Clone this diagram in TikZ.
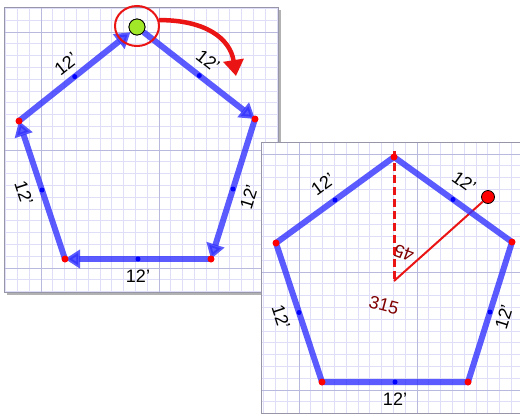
\documentclass[tikz,border=0pt]{standalone}
\usepackage{fontspec}
\setmainfont{Liberation Sans}
\usetikzlibrary{arrows.meta,shapes.geometric}
\definecolor{pnBlue}{RGB}{50,50,255}
\definecolor{pnRed}{RGB}{235,20,20}
\definecolor{pnDark}{RGB}{128,0,0}
\definecolor{pnGrid}{RGB}{222,222,248}
\definecolor{pnMajor}{RGB}{185,185,222}
\definecolor{pnBorder}{RGB}{150,150,168}
\definecolor{pnLime}{RGB}{160,232,40}
\begin{document}
\begin{tikzpicture}[
  x=1pt, y=-1pt, font=\fontsize{18}{20}\selectfont,
  minor/.style ={pnGrid, line width=0.8pt},
  major/.style ={pnMajor, line width=0.8pt},
  side/.style  ={pnBlue, opacity=0.8, line width=6pt},
  arr/.style   ={side, -{Triangle[length=15pt,width=18pt]}},
  vdot/.style  ={circle, fill=red, inner sep=0pt, minimum size=7pt},
  mdot/.style  ={circle, fill=blue, inner sep=0pt, minimum size=5pt, opacity=1},
  lbl/.style   ={inner sep=0pt, text=black, opacity=1},
  ang/.style   ={inner sep=0pt, text=pnDark}]
  \useasboundingbox (0,0) rectangle (520,416);
  \fill[gray!60] (7,10) rectangle (281,295);
  \fill[white] (4,7) rectangle (278,292);
  \begin{scope}
    \clip (4,7) rectangle (278,292);
    \foreach \k in {-4,...,21} \draw[minor] ({41+11.8*\k},7) -- ({41+11.8*\k},292);
    \foreach \k in {-3,...,23} \draw[minor] (4,{32+11.8*\k}) -- (278,{32+11.8*\k});
    \foreach \k in {0,1} \draw[major] ({41+118*\k},7) -- ({41+118*\k},292);
    \foreach \k in {0,1,2} \draw[major] (4,{32+118*\k}) -- (278,{32+118*\k});
  \end{scope}
  \draw[pnBorder] (4,7) rectangle (278,292);
  \coordinate (lt)  at (137,27);
  \coordinate (lr)  at (255,119);
  \coordinate (lbr) at (211,259);
  \coordinate (lbl) at (65,259);
  \coordinate (ll)  at (19,121);
  \node[circle, draw=black, fill=pnLime, minimum size=16pt, inner sep=0pt, line width=0.8pt] (gn) at (lt) {};
  \draw[arr] (gn) -- node[mdot] (m1) {} (lr);
  \draw[arr] (lr) -- node[mdot] (m2) {} (lbr);
  \draw[arr] (lbr) -- node[mdot] (m3) {} (lbl);
  \draw[arr] (lbl) -- node[mdot] (m4) {} (ll);
  \draw[arr] (ll) -- node[mdot] (m5) {} (gn);
  \node[circle, draw=black, fill=pnLime, minimum size=16pt, inner sep=0pt, line width=0.8pt] (gn2) at (lt) {};
  \node[vdot] (d1) at (lr) {};  \node[vdot] (d2) at (lbr) {};
  \node[vdot] (d3) at (lbl) {}; \node[vdot] (d4) at (ll) {};
  \node[ellipse, draw=pnRed, line width=2pt, minimum width=44pt, minimum height=40pt, inner sep=0pt] (ring) at (137,26) {};
  \coordinate (tipc) at (236,76);
  \draw[pnRed, line width=4.5pt, -{Triangle[length=16pt,width=20pt]}] (ring.15) .. controls (205,20) and (230,38) .. (tipc);
  \node[lbl, rotate=38.5] (la1) at (66,64) {12'};
  \node[lbl, rotate=-38] (la2) at (208,61) {12'};
  \node[lbl, rotate=72.6] (la3) at (249,197) {12'};
  \node[lbl] (la4) at (138,276) {12'};
  \node[lbl, rotate=-71.6] (la5) at (24,193) {12'};
  \fill[white] (261,142) rectangle (520,413);
  \begin{scope}
    \clip (261,142) rectangle (520,413);
    \foreach \k in {-14,...,10} \draw[minor] ({417+11.8*\k},142) -- ({417+11.8*\k},413);
    \foreach \k in {-11,...,13} \draw[minor] (261,{272+11.8*\k}) -- (520,{272+11.8*\k});
    \draw[major] (299,142) -- (299,413);
    \draw[major] (417,142) -- (417,413);
    \draw[major] (261,154) -- (520,154);
    \draw[major] (261,272) -- (520,272);
    \draw[major] (261,390) -- (520,390);
  \end{scope}
  \draw[pnBorder] (261,142) -- (261,413) -- (520,413);
  \draw[pnBorder] (261,142) -- (520,142);
  \coordinate (rt)  at (394,157);
  \coordinate (rr)  at (512,242);
  \coordinate (rbr) at (468,382);
  \coordinate (rbl) at (322,382);
  \coordinate (rl)  at (276,243);
  \coordinate (ctr) at (394,281);
  \coordinate (dtop) at (394,151);
  \node[circle, draw=black, fill=red, minimum size=13pt, inner sep=0pt, line width=0.8pt] (ball) at (488,197) {};
  \draw[pnRed, line width=3pt, dash pattern=on 8pt off 4pt] (dtop) -- (ctr);
  \draw[pnRed, line width=2pt] (ctr) -- (ball);
  \draw[side, line join=round] (rt) -- node[mdot] (n1) {} (rr) -- node[mdot] (n2) {} (rbr)
    -- node[mdot] (n3) {} (rbl) -- node[mdot] (n4) {} (rl) -- node[mdot] (n5) {} cycle;
  \node[vdot] (e1) at (rt) {};  \node[vdot] (e2) at (rr) {};  \node[vdot] (e3) at (rbr) {};
  \node[vdot] (e4) at (rbl) {}; \node[vdot] (e5) at (rl) {};
  \node[lbl, rotate=36] (lb1) at (323,184) {12'};
  \node[lbl, rotate=-36] (lb2) at (464,182) {12'};
  \node[lbl, rotate=72.6] (lb3) at (504,317) {12'};
  \node[lbl] (lb4) at (395,399) {12'};
  \node[lbl, rotate=-71.7] (lb5) at (281,317) {12'};
  \node[ang, rotate=160] (a45) at (404,253) {45};
  \node[ang, rotate=-15] (a315) at (384,305) {315};
\end{tikzpicture}
\end{document}
